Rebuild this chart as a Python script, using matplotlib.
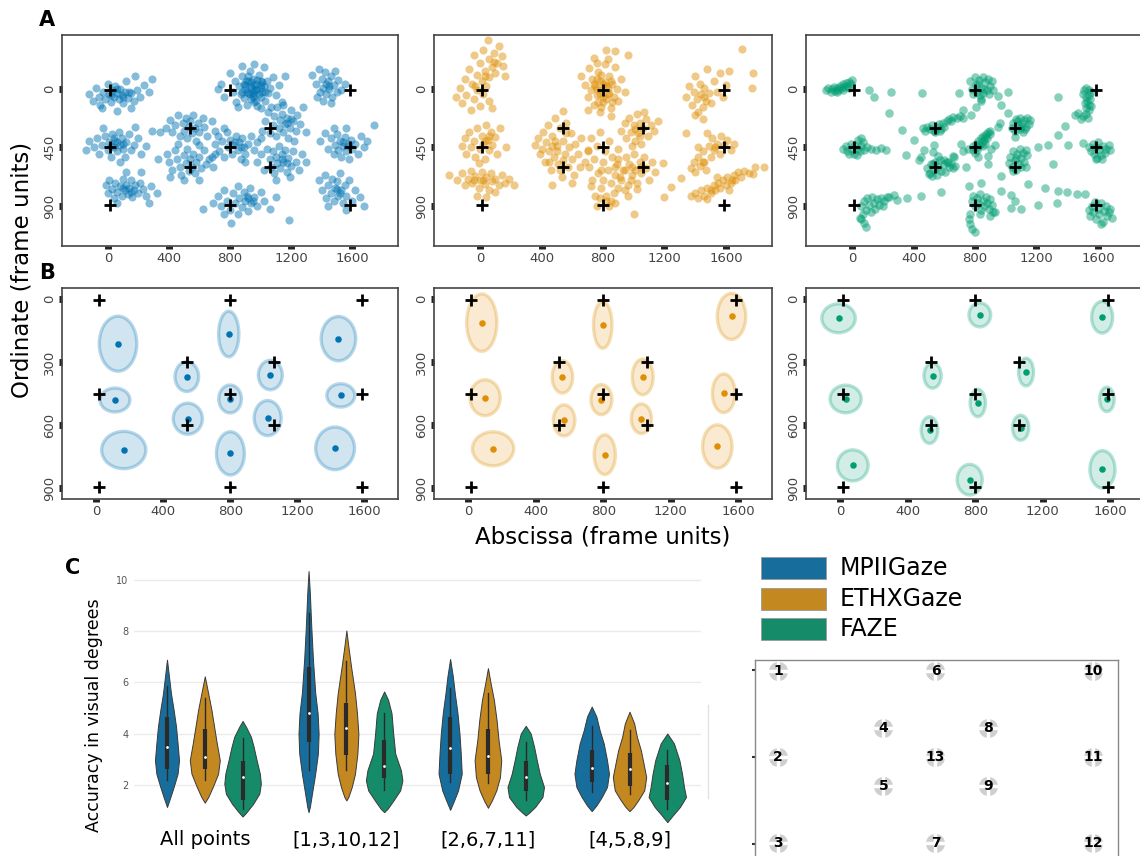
import numpy as np
import matplotlib
matplotlib.use('Agg')
import matplotlib.pyplot as plt
from matplotlib.patches import Ellipse, Rectangle
from matplotlib.lines import Line2D
import seaborn as sns

# ---------------- data ----------------
# calibration targets (frame units) and their numbers
target_x = [15, 15, 15, 540, 540, 800, 800, 800, 1060, 1060, 1585, 1585, 1585]
target_y = [5, 450, 895, 300, 600, 5, 450, 895, 300, 600, 5, 450, 895]
target_num = [1, 2, 3, 4, 5, 6, 13, 7, 8, 9, 10, 11, 12]

# A: raw gaze estimates, one list per cluster
mpii_points = [
    [(-120, 40), (-100, 90), (-80, -10), (-60, 60), (-50, 120), (-30, 20), (-20, 80), (0, -40), (10, 40), (20, 100),
     (30, 10), (40, 60), (50, -20), (60, 30), (70, 80), (80, 0), (90, 50), (100, 110), (110, 20), (120, -60),
     (130, 70), (150, 30), (170, 90), (190, 10), (210, 60), (240, -30), (270, 20), (290, -80), (150, 150), (60, 170),
     (-40, 150), (180, -100), (20, 50), (60, 0), (100, 60), (140, 20)],
    [(-140, 470), (-120, 400), (-90, 450), (-70, 380), (-60, 500), (-40, 430), (-20, 360), (0, 470), (10, 410), (20, 520),
     (30, 350), (40, 450), (50, 400), (60, 480), (70, 330), (80, 430), (90, 380), (100, 460), (110, 520), (120, 410),
     (140, 350), (150, 470), (170, 430), (200, 380), (220, 500), (250, 440), (290, 320), (180, 290), (-30, 300), (80, 560),
     (20, 440), (60, 410), (100, 420), (40, 380)],
    [(-10, 740), (0, 800), (10, 700), (30, 770), (40, 840), (50, 720), (60, 790), (80, 750), (90, 820), (100, 690),
     (110, 780), (120, 740), (130, 810), (140, 760), (150, 700), (160, 830), (170, 780), (180, 740), (200, 800), (210, 720),
     (230, 770), (250, 820), (280, 750), (320, 800), (220, 640), (120, 640), (60, 880), (270, 880), (100, 760), (150, 790)],
    [(380, 300), (410, 240), (420, 330), (440, 280), (460, 200), (470, 360), (490, 260), (500, 320), (510, 220), (520, 380),
     (530, 290), (540, 250), (550, 340), (560, 200), (570, 300), (580, 400), (590, 260), (600, 330), (620, 220), (630, 290),
     (650, 360), (680, 250), (700, 320), (460, 420), (600, 430), (340, 330)],
    [(390, 500), (400, 560), (420, 620), (440, 470), (450, 540), (470, 600), (480, 660), (500, 510), (510, 570), (520, 460),
     (530, 630), (540, 540), (550, 600), (560, 500), (570, 650), (580, 560), (600, 520), (610, 610), (630, 470), (640, 580),
     (660, 540), (690, 600), (700, 500), (500, 700), (410, 680), (600, 700), (330, 540)],
    [(720, 0), (740, -40), (760, 60), (800, -120), (820, 20), (830, -60), (840, 100), (860, -20), (870, 40), (880, -100),
     (890, 70), (900, 0), (905, -60), (910, 120), (920, 30), (930, -140), (935, -20), (940, 80), (950, -80), (955, 10),
     (960, 50), (970, -40), (975, 130), (980, 0), (990, -110), (1000, 60), (1005, -30), (1010, 20), (1020, -170), (1030, 90),
     (1040, -60), (1050, 30), (1060, -10), (1070, 140), (1080, -90), (1100, 50), (1120, -30), (1140, 100), (1160, -100),
     (880, -180), (1000, 150), (850, 140), (960, -190), (920, -100), (1000, -60), (930, 40), (970, 90), (890, -40),
     (1020, -20), (950, 30), (900, -30), (910, 20), (920, -60), (940, -10), (950, 60), (960, -30), (970, 10), (980, -70),
     (990, 40), (1000, -10), (1010, -50), (1030, 20), (880, 20), (940, -50), (960, 100)],
    [(700, 420), (720, 360), (730, 480), (750, 400), (760, 520), (780, 330), (790, 450), (800, 390), (810, 500), (820, 430),
     (840, 360), (850, 470), (860, 410), (870, 540), (880, 380), (890, 450), (900, 500), (920, 420), (940, 360), (960, 470),
     (980, 410), (1000, 380), (760, 300), (900, 560), (680, 520), (830, 410), (870, 450)],
    [(1010, 320), (1030, 250), (1050, 180), (1060, 340), (1080, 280), (1090, 210), (1100, 360), (1110, 140), (1120, 300),
     (1130, 240), (1140, 190), (1150, 330), (1160, 270), (1170, 220), (1180, 380), (1190, 300), (1200, 160), (1210, 250),
     (1230, 320), (1240, 200), (1260, 270), (1280, 140), (1300, 330), (1150, 120), (1220, 400), (1170, 260), (1200, 230)],
    [(980, 560), (1000, 500), (1020, 620), (1040, 460), (1060, 540), (1070, 600), (1080, 480), (1090, 650), (1100, 520),
     (1110, 570), (1120, 440), (1130, 610), (1140, 500), (1150, 560), (1160, 470), (1170, 640), (1180, 530), (1200, 590),
     (1210, 480), (1230, 560), (1250, 620), (1270, 500), (1300, 560), (1100, 700), (1190, 680), (1188, 1010), (808, 1031),
     (623, 920), (1140, 540), (1170, 570)],
    [(690, 880), (720, 820), (740, 900), (760, 780), (780, 860), (800, 930), (820, 800), (830, 880), (850, 750), (860, 840),
     (880, 910), (890, 790), (900, 860), (910, 820), (920, 940), (930, 760), (940, 880), (960, 830), (980, 900), (1000, 790),
     (1020, 860), (1060, 920), (1100, 830), (850, 960), (760, 960), (920, 840), (950, 860)],
    [(1340, -110), (1360, -40), (1380, -150), (1390, 20), (1400, -80), (1410, -10), (1420, -130), (1430, 40), (1440, -60),
     (1450, 0), (1460, -100), (1470, 60), (1480, -30), (1490, -140), (1500, 20), (1510, -70), (1530, 10), (1550, -40),
     (1410, 90), (1460, 110), (1370, 60), (1430, -40), (1450, -20)],
    [(1390, 400), (1420, 340), (1440, 460), (1460, 380), (1480, 500), (1490, 430), (1500, 350), (1510, 470), (1520, 400),
     (1530, 520), (1540, 440), (1550, 370), (1560, 480), (1570, 420), (1580, 540), (1590, 390), (1600, 460), (1620, 420),
     (1640, 500), (1660, 360), (1680, 450), (1700, 400), (1740, 280), (1480, 300), (1560, 300), (1540, 410), (1580, 440)],
    [(1380, 700), (1400, 780), (1420, 660), (1430, 840), (1440, 740), (1460, 800), (1470, 690), (1480, 860), (1490, 760),
     (1500, 710), (1510, 820), (1520, 650), (1530, 780), (1540, 880), (1550, 740), (1560, 820), (1580, 700), (1600, 860),
     (1620, 780), (1650, 830), (1680, 900), (1440, 900), (1560, 930), (1500, 770), (1520, 800)],
]

ethx_points = [
    [(50, -380), (120, -330), (20, -300), (90, -280), (140, -250), (-40, -260), (60, -230), (110, -200), (150, -180),
     (0, -200), (80, -170), (-70, -150), (30, -140), (100, -120), (-20, -110), (60, -90), (-100, -80), (10, -60),
     (-50, -40), (40, -20), (-130, -10), (-20, 10), (20, 40), (-90, 50), (-40, 80), (60, 90), (-120, 110), (0, 130),
     (-60, 160), (80, 150), (-160, 60), (160, -100), (-30, -20), (30, -100), (90, -210)],
    [(-120, 440), (-100, 380), (-90, 500), (-70, 330), (-60, 450), (-40, 400), (-30, 520), (-20, 300), (0, 460), (10, 360),
     (20, 420), (30, 540), (40, 280), (50, 390), (60, 470), (70, 330), (80, 430), (100, 370), (110, 500), (130, 300),
     (-10, 570), (170, 450), (30, 400), (60, 360)],
    [(-200, 660), (-150, 700), (-120, 650), (-100, 740), (-80, 690), (-60, 630), (-50, 720), (-30, 670), (-10, 760),
     (0, 700), (10, 640), (30, 730), (40, 680), (60, 780), (70, 650), (80, 710), (100, 690), (120, 740), (140, 660),
     (160, 720), (190, 690), (220, 740), (-20, 820), (40, 830), (100, 790), (20, 700), (-40, 700)],
    [(360, 430), (380, 380), (390, 500), (400, 460), (410, 330), (420, 560), (430, 410), (440, 280), (450, 480), (460, 620),
     (470, 360), (480, 520), (490, 220), (500, 440), (510, 580), (520, 300), (530, 680), (540, 400), (550, 500), (560, 260),
     (570, 600), (580, 450), (590, 340), (600, 540), (610, 660), (620, 420), (640, 500), (660, 380), (680, 560), (700, 470),
     (540, 170), (470, 740), (600, 720), (520, 620), (450, 560), (560, 340), (490, 400), (650, 600), (500, 480),
     (540, 550), (470, 440)],
    [(660, -100), (680, -30), (700, 60), (710, -160), (720, 10), (730, -80), (740, 120), (750, -20), (760, 50), (770, -130),
     (780, -60), (790, 10), (800, 100), (810, -190), (820, -20), (830, 40), (840, -100), (850, 150), (860, -40), (870, 60),
     (880, -170), (890, 0), (900, 90), (920, -80), (940, 20), (960, -260), (740, -240), (820, -300), (880, -290), (780, 180),
     (700, 160), (850, 210), (830, -230), (760, -200), (800, -40), (760, 0), (840, 30), (760, -80), (780, 40),
     (790, -110), (800, 60), (810, -50), (820, 80), (830, -10), (850, -60), (770, 100), (740, -40), (860, 100),
     (790, 140)],
    [(700, 480), (710, 600), (720, 380), (730, 700), (740, 540), (750, 820), (760, 440), (770, 650), (780, 330), (790, 760),
     (800, 560), (810, 480), (820, 860), (830, 620), (840, 400), (850, 720), (860, 520), (870, 800), (880, 660), (890, 580),
     (900, 760), (920, 700), (940, 620), (960, 820), (980, 700), (760, 900), (840, 900), (800, 700), (720, 750), (880, 880),
     (900, 460), (790, 620), (820, 820), (850, 860), (780, 840)],
    [(920, 320), (940, 260), (950, 380), (970, 220), (980, 330), (1000, 280), (1010, 400), (1020, 190), (1030, 340),
     (1040, 260), (1050, 420), (1060, 300), (1080, 230), (1090, 360), (1110, 280), (1130, 320), (1160, 250), (990, 440),
     (1070, 180), (1010, 310), (1040, 360)],
    [(880, 600), (900, 540), (910, 680), (930, 620), (950, 520), (960, 740), (970, 580), (990, 660), (1000, 500),
     (1010, 620), (1020, 720), (1040, 560), (1050, 650), (1070, 520), (1080, 610), (1100, 700), (1120, 560), (1140, 640),
     (940, 780), (1020, 770), (990, 600), (1050, 600)],
    [(1004, 959), (1200, 830), (1244, 753), (1190, 572), (1310, 688), (1343, 340), (1703, -310), (1779, -124),
     (1768, -8), (1845, 598), (1779, 655)],
    [(1340, 60), (1360, -20), (1380, 120), (1390, 20), (1400, -100), (1410, 80), (1420, 180), (1430, -40), (1440, 40),
     (1450, 140), (1460, -10), (1470, 90), (1480, -150), (1490, 30), (1500, 110), (1520, -60), (1540, 20), (1560, -120),
     (1580, 60), (1600, -30), (1620, -140), (1450, 230), (1400, 200), (1460, 60)],
    [(1370, 610), (1390, 560), (1400, 640), (1420, 520), (1430, 590), (1450, 480), (1460, 560), (1470, 620), (1490, 440),
     (1500, 520), (1510, 380), (1520, 470), (1540, 420), (1560, 500), (1570, 360), (1590, 430), (1610, 390), (1630, 470),
     (1650, 420), (1480, 340), (1420, 450), (1450, 560), (1530, 450)],
    [(1370, 820), (1400, 800), (1420, 840), (1440, 780), (1460, 820), (1480, 760), (1500, 800), (1520, 740), (1530, 780),
     (1550, 720), (1560, 760), (1580, 700), (1600, 740), (1610, 680), (1630, 720), (1650, 660), (1660, 700), (1680, 640),
     (1700, 680), (1720, 630), (1750, 650), (1790, 600), (1540, 680), (1480, 850), (1620, 780), (1500, 780),
     (1640, 700)],
]

faze_points = [
    [(-170, 10), (-155, -5), (-140, 20), (-130, 0), (-120, -15), (-110, 15), (-100, -10), (-90, 5), (-80, -25), (-70, -5),
     (-60, -35), (-50, -15), (-40, -45), (-30, -25), (-20, -55), (-10, -40), (0, -70), (-100, 25), (-60, 10), (-20, -10)],
    [(770, -60), (780, 0), (790, 40), (800, -90), (805, -30), (815, 20), (825, -70), (830, 50), (840, -10), (850, -95),
     (855, 30), (865, -50), (875, 10), (885, -80), (890, 40), (900, -20), (910, -60), (915, 10), (820, -40), (860, 0)],
    [(1510, 10), (1525, -5), (1540, 5), (1555, 20), (1505, 40), (1520, 60), (1545, 50), (1530, 90), (1550, 80), (1515, 110),
     (1540, 120), (1525, 150), (1545, 160), (1520, 190), (1500, 210), (1535, 220), (1490, 230), (1555, 130)],
    [(460, 300), (475, 320), (490, 290), (505, 310), (520, 280), (535, 320), (550, 295), (565, 270), (580, 310), (590, 260),
     (600, 290), (615, 250), (630, 230), (645, 250), (660, 215), (680, 225), (700, 210), (720, 220), (540, 330), (575, 320)],
    [(785, 470), (790, 440), (800, 490), (805, 420), (815, 450), (820, 400), (830, 430), (840, 380), (845, 410), (855, 360),
     (860, 395), (870, 345), (875, 375), (885, 330), (895, 350), (900, 320), (810, 470), (850, 440)],
    [(1040, 300), (1050, 260), (1060, 320), (1070, 230), (1080, 280), (1090, 310), (1095, 220), (1105, 260), (1110, 330),
     (1120, 240), (1130, 290), (1140, 220), (1150, 270), (1160, 240), (1075, 250), (1125, 310), (1100, 290)],
    [(-60, 460), (-40, 440), (-30, 480), (-10, 420), (0, 470), (10, 500), (20, 430), (30, 460), (40, 390), (50, 480),
     (60, 440), (70, 410), (80, 470), (60, 380), (100, 450), (120, 460), (-20, 500), (30, 510)],
    [(490, 610), (505, 650), (515, 580), (530, 620), (540, 560), (550, 660), (560, 600), (570, 550), (580, 630), (595, 580),
     (605, 640), (615, 560), (630, 600), (645, 580), (660, 610), (670, 590), (520, 670), (600, 545)],
    [(1020, 570), (1030, 520), (1040, 600), (1050, 480), (1060, 550), (1065, 620), (1075, 500), (1085, 580), (1090, 460),
     (1100, 530), (1110, 490), (1120, 560), (1130, 470), (1140, 510), (1045, 630), (1100, 600), (1070, 530)],
    [(1540, 450), (1555, 480), (1565, 420), (1575, 500), (1585, 450), (1595, 530), (1600, 410), (1610, 470), (1620, 510),
     (1630, 440), (1645, 490), (1655, 460), (1670, 430), (1680, 470), (1590, 540), (1625, 540)],
    [(60, 900), (80, 860), (90, 930), (100, 840), (110, 890), (120, 950), (130, 830), (140, 880), (150, 920), (160, 850),
     (175, 890), (190, 840), (210, 860), (230, 830), (70, 960), (60, 1000), (80, 1030), (90, 1060), (50, 990), (240, 830),
     (200, 900)],
    [(780, 860), (790, 820), (800, 900), (810, 840), (820, 880), (830, 810), (840, 930), (850, 860), (860, 900), (870, 830),
     (880, 880), (890, 920), (900, 850), (910, 890), (770, 960), (760, 1000), (770, 1040), (780, 1080), (800, 1100),
     (920, 950), (830, 960)],
    [(1540, 930), (1550, 980), (1560, 900), (1570, 950), (1580, 870), (1590, 1000), (1600, 920), (1610, 960), (1620, 880),
     (1630, 1020), (1640, 940), (1650, 900), (1660, 980), (1670, 950), (1680, 920), (1690, 990), (1620, 1040)],
    # saccade samples between targets
    [(109, 5), (142, 62), (251, 21), (458, 34), (699, 34), (840, 75), (240, 187), (327, 312), (404, 390), (349, 507),
     (437, 546), (469, 468), (502, 655), (578, 793), (273, 819), (295, 856), (360, 837), (447, 824), (218, 468),
     (153, 468), (186, 458), (535, 434), (655, 512), (720, 481), (742, 598), (764, 746), (840, 720), (884, 512),
     (906, 460), (928, 429), (950, 291), (971, 785), (884, 577), (971, 668), (1037, 819), (1015, 26), (950, 57),
     (971, 122), (1015, 187), (961, 260), (1037, 916), (1102, 921), (1212, 890), (1332, 877), (1343, 788), (1397, 793),
     (1463, 806), (1517, 811), (1255, 765), (1146, 728), (1135, 603), (1212, 447), (1277, 434), (1310, 577),
     (1343, 356), (1386, 286), (1452, 200), (1473, 187), (1408, 434), (1506, 416), (1343, 65), (720, 161), (775, 200),
     (808, 135), (840, 96), (447, 525), (557, 512), (524, 577), (524, 486), (709, 421), (819, 525), (862, 421),
     (862, 369), (1059, 369), (1059, 863), (928, 947), (895, 981), (753, 460), (622, 564), (666, 525)],
]

# B: mean estimate per target and ellipse size (width, height) in frame units
mpii_mean_x = [131, 113, 165, 541, 547, 791, 799, 801, 1039, 1023, 1445, 1459, 1425]
mpii_mean_y = [213, 481, 719, 370, 570, 167, 476, 735, 362, 567, 189, 459, 711]
mpii_ell_w = [224, 178, 264, 141, 174, 121, 135, 167, 143, 161, 206, 167, 232]
mpii_ell_h = [262, 114, 178, 141, 148, 217, 133, 206, 140, 167, 211, 111, 203]

ethx_mean_x = [80, 100, 147, 558, 568, 797, 789, 809, 1034, 1026, 1560, 1514, 1476]
ethx_mean_y = [113, 470, 713, 371, 578, 124, 479, 741, 371, 570, 83, 449, 702]
ethx_ell_w = [179, 179, 245, 122, 128, 110, 124, 126, 124, 120, 169, 135, 175]
ethx_ell_h = [273, 171, 162, 154, 148, 222, 143, 189, 170, 141, 219, 184, 206]

faze_mean_x = [-10, 32, 74, 547, 529, 827, 815, 767, 1101, 1069, 1552, 1580, 1554]
faze_mean_y = [92, 476, 792, 365, 624, 76, 495, 860, 348, 613, 87, 478, 811]
faze_ell_w = [199, 185, 183, 103, 99, 129, 91, 149, 89, 97, 125, 87, 149]
faze_ell_h = [138, 132, 148, 119, 127, 114, 130, 146, 132, 119, 151, 116, 178]

# C: violin outlines (value, half width) and box stats (low, q1, median, q3, high)
groups = ['All points', '[1,3,10,12]', '[2,6,7,11]', '[4,5,8,9]']
models = ['MPIIGaze', 'ETHXGaze', 'FAZE']
violin_levels = [
    [6.89, 5.58, 4.93, 4.27, 3.62, 2.97, 2.44, 1.92, 1.53, 1.14],
    [6.24, 5.58, 4.93, 4.27, 3.62, 2.97, 2.44, 1.92, 1.53, 1.31],
    [4.50, 4.27, 3.88, 3.49, 2.97, 2.44, 2.05, 1.66, 1.27, 0.94, 0.77],
    [10.35, 9.5, 8.2, 6.9, 5.6, 4.8, 4.0, 3.23, 2.44, 1.66, 1.14, 0.94],
    [8.03, 7.41, 6.63, 5.58, 4.8, 4.0, 3.23, 2.44, 1.92, 1.53, 1.40],
    [5.65, 5.32, 4.8, 4.0, 3.23, 2.58, 2.18, 1.79, 1.40, 1.07, 0.94],
    [6.92, 6.24, 5.58, 4.8, 4.0, 3.23, 2.44, 1.79, 1.40, 1.03],
    [6.56, 5.97, 5.32, 4.54, 3.75, 2.97, 2.31, 1.79, 1.40, 1.11],
    [4.31, 4.01, 3.49, 2.97, 2.44, 1.92, 1.53, 1.14, 0.92, 0.81],
    [5.06, 4.67, 4.14, 3.62, 2.97, 2.44, 1.92, 1.53, 1.2, 0.98],
    [4.86, 4.4, 3.88, 3.36, 2.84, 2.31, 1.79, 1.40, 1.14, 0.98],
    [4.01, 3.62, 2.97, 2.44, 1.92, 1.53, 1.14, 0.81, 0.55],
]
violin_half = [
    [0, .028, .047, .064, .075, .085, .075, .047, .024, 0],
    [0, .024, .047, .066, .085, .106, .094, .056, .024, 0],
    [0, .024, .059, .078, .099, .122, .129, .118, .075, .028, 0],
    [0, .009, .019, .031, .047, .064, .071, .066, .047, .024, .009, 0],
    [0, .014, .033, .061, .075, .085, .078, .061, .038, .014, 0],
    [0, .028, .052, .064, .078, .118, .129, .113, .066, .024, 0],
    [0, .019, .033, .052, .066, .075, .082, .056, .028, 0],
    [0, .019, .042, .061, .075, .094, .085, .059, .028, 0],
    [0, .035, .059, .078, .099, .129, .118, .066, .024, 0],
    [0, .033, .056, .085, .108, .122, .108, .071, .033, 0],
    [0, .033, .052, .080, .099, .118, .104, .061, .028, 0],
    [0, .047, .085, .104, .118, .132, .089, .038, 0],
]
box_stats = [
    (2.18, 2.64, 3.49, 4.64, 5.87), (2.18, 2.64, 3.10, 4.17, 5.39), (1.07, 1.42, 2.30, 2.94, 3.82),
    (2.58, 3.69, 4.82, 6.60, 8.72), (2.60, 3.16, 4.21, 5.19, 6.82), (1.79, 2.29, 2.73, 3.75, 4.82),
    (2.12, 2.44, 3.45, 4.67, 5.80), (2.08, 2.44, 3.15, 4.17, 5.58), (1.42, 1.75, 2.31, 2.93, 3.69),
    (1.73, 2.12, 2.68, 3.36, 4.30), (1.66, 1.95, 2.64, 3.25, 4.14), (1.07, 1.42, 2.08, 2.77, 3.36),
]

# ---------------- figure ----------------
W, H = 1140, 856
fig = plt.figure(figsize=(W / 100, H / 100), dpi=100)


def px_box(l, t, r, b):
    return [l / W, 1 - b / H, (r - l) / W, (b - t) / H]


base = sns.color_palette('colorblind')[:3]
soft = [sns.desaturate(c, 0.75) for c in base]


def frame_style(ax, xlim, ylim, yticks):
    ax.set_xlim(xlim)
    ax.set_ylim(ylim)
    ax.set_xticks([0, 400, 800, 1200, 1600])
    ax.set_yticks(yticks)
    ax.tick_params(length=2.2, width=5, color='#222222', labelsize=9.5, labelcolor='#444444', pad=2)
    ax.tick_params(axis='y', labelrotation=90)
    for lab in ax.get_yticklabels():
        lab.set_va('center')
    for sp in ax.spines.values():
        sp.set_color('#444444')
        sp.set_linewidth(1.2)


def draw_targets(ax):
    ax.plot(target_x, target_y, '+', color='black', ms=9, mew=2, zorder=5)


cols_l = [(62, 398), (434, 772), (806, 1144)]

# A
for (l, r), clusters, col, sz in zip(cols_l, [mpii_points, ethx_points, faze_points], base, [34, 34, 38]):
    ax = fig.add_axes(px_box(l, 35, r, 246))
    pts = np.array([p for c in clusters for p in c])
    ax.scatter(pts[:, 0], pts[:, 1], s=sz, color=col, alpha=0.48, linewidths=0)
    draw_targets(ax)
    frame_style(ax, (-300, 1900), (1208, -415), [0, 450, 900])

# B
b_sets = [
    (mpii_mean_x, mpii_mean_y, mpii_ell_w, mpii_ell_h),
    (ethx_mean_x, ethx_mean_y, ethx_ell_w, ethx_ell_h),
    (faze_mean_x, faze_mean_y, faze_ell_w, faze_ell_h),
]
for (l, r), (mx, my, ew, eh), col in zip(cols_l, b_sets, base):
    ax = fig.add_axes(px_box(l, 288, r, 499))
    for x, y, w, h in zip(mx, my, ew, eh):
        ax.add_patch(Ellipse((x, y), w, h, facecolor=(*col, 0.18), edgecolor=(*col, 0.28), lw=2.4))
    ax.scatter(mx, my, s=22, color=col, linewidths=0, zorder=4)
    draw_targets(ax)
    frame_style(ax, (-203, 1800), (952, -52), [0, 300, 600, 900])

fig.text(47 / W, 1 - 20 / H, 'A', fontsize=15, weight='bold', ha='center', va='center')
fig.text(47 / W, 1 - 273 / H, 'B', fontsize=15, weight='bold', ha='center', va='center')
fig.text(73 / W, 1 - 568 / H, 'C', fontsize=15, weight='bold', ha='center', va='center')
fig.text(22 / W, 1 - 270 / H, 'Ordinate (frame units)', fontsize=16.5, rotation=90, ha='center', va='center')
fig.text(603 / W, 1 - 537 / H, 'Abscissa (frame units)', fontsize=16.5, ha='center', va='center')

# C
axc = fig.add_axes(px_box(134, 565, 701, 822))
offsets = [-0.267, 0.0, 0.267]
for gi in range(len(groups)):
    for mi in range(len(models)):
        k = gi * 3 + mi
        pos = gi + offsets[mi]
        ys = np.array(violin_levels[k])
        hw = np.array(violin_half[k])
        axc.fill_betweenx(ys, pos - hw, pos + hw, facecolor=soft[mi], edgecolor='#3a3a3a', lw=0.7, zorder=2)
        lo, q1, med, q3, hi = box_stats[k]
        axc.plot([pos, pos], [lo, hi], color='#2a2a2a', lw=1.0, zorder=3)
        axc.plot([pos, pos], [q1, q3], color='#2a2a2a', lw=3, solid_capstyle='butt', zorder=3)
        axc.scatter([pos], [med], s=4, color='white', zorder=4, linewidths=0)
axc.set_xlim(-0.5, 3.505)
axc.set_ylim(0.556, 10.585)
axc.set_xticks(range(len(groups)))
axc.set_xticklabels(groups, fontsize=14)
axc.set_yticks([2, 4, 6, 8, 10])
axc.tick_params(axis='x', length=0, pad=6)
axc.tick_params(axis='y', length=0, labelsize=7, labelcolor='#555555', pad=4)
axc.yaxis.grid(True, color='#ebebeb', lw=1)
axc.set_axisbelow(True)
for sp in axc.spines.values():
    sp.set_visible(False)
axc.set_ylabel('Accuracy in visual degrees', fontsize=12.5)
axc.yaxis.set_label_coords(-0.055, 0.416)
fig.add_artist(Line2D([708 / W, 708 / W], [1 - 705 / H, 1 - 798 / H], color='#e2e2e2', lw=1))

# legend
for i, (name, col) in enumerate(zip(models, soft)):
    top = 557 + i * 30.5
    fig.add_artist(Rectangle((761 / W, 1 - (top + 22) / H), 65 / W, 22 / H, transform=fig.transFigure,
                             facecolor=col, edgecolor='#999999', lw=0.6))
    fig.text(840 / W, 1 - (top + 11) / H, name, fontsize=17, ha='left', va='center')

# target layout
axl = fig.add_axes(px_box(755, 660, 1118, 870))
axl.scatter(target_x, target_y, s=190, color='#cfcfcf', linewidths=0, zorder=2)
axl.plot(target_x, target_y, '+', color='white', ms=15, mew=2.5, zorder=3)
for x, y, n in zip(target_x, target_y, target_num):
    axl.text(x, y, str(n), fontsize=10, weight='bold', ha='center', va='center', zorder=4)
axl.set_xlim(-100, 1710)
axl.set_ylim(1035, -52)
axl.set_xticks([])
axl.set_yticks([0, 450, 900])
axl.tick_params(axis='y', length=2, width=1.5, color='#333333', labelleft=False)
for sp in axl.spines.values():
    sp.set_color('#888888')
    sp.set_linewidth(1)

fig.savefig('out.png', dpi=100)
